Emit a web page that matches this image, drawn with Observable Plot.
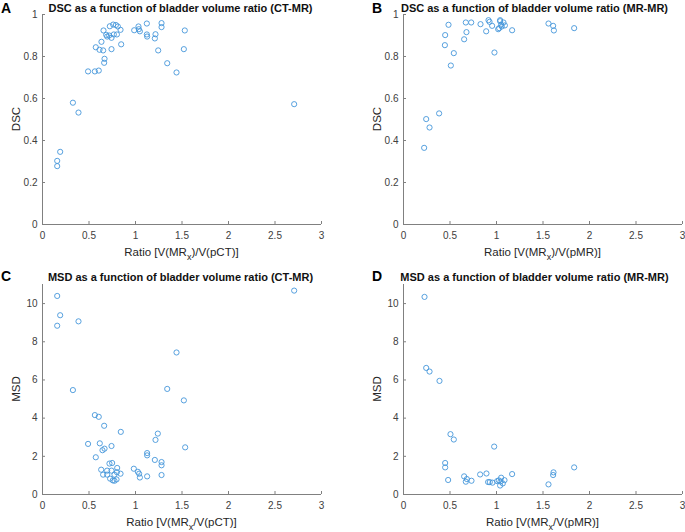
<!DOCTYPE html>
<html>
<head>
<meta charset="utf-8">
<script src="https://cdn.jsdelivr.net/npm/d3@7"></script>
<script src="https://cdn.jsdelivr.net/npm/@observablehq/plot@0.6"></script>
<style>
  html, body { margin: 0; padding: 0; background: #fff; }
  #wrap { position: relative; width: 685px; height: 532px; overflow: hidden; }
  #wrap > div { position: absolute; }
  svg { overflow: visible; }
</style>
</head>
<body>
<div id="wrap">
  <div id="pA" style="left:0px; top:0px;"></div>
  <div id="pB" style="left:361px; top:0px;"></div>
  <div id="pC" style="left:0px; top:270px;"></div>
  <div id="pD" style="left:361px; top:270px;"></div>
</div>
<script>
// ---------- data ----------
const panelLetters = ["A", "B", "C", "D"];
const panelTitles = [
  "DSC as a function of bladder volume ratio (CT-MR)",
  "DSC as a function of bladder volume ratio (MR-MR)",
  "MSD as a function of bladder volume ratio (CT-MR)",
  "MSD as a function of bladder volume ratio (MR-MR)"
];
const yLabels = ["DSC", "DSC", "MSD", "MSD"];
// x labels: [before subscript, subscript, after subscript]
const xLabels = [
  ["Ratio [V(MR", "x", ")/V(pCT)]"],
  ["Ratio [V(MR", "x", ")/V(pMR)]"],
  ["Ratio [V(MR", "x", "/V(pCT)]"],
  ["Ratio [V(MR", "x", "/V(pMR)]"]
];
const xTicks = [0, 0.5, 1, 1.5, 2, 2.5, 3];
const dscTicks = [0, 0.2, 0.4, 0.6, 0.8, 1];
const msdTicks = [0, 2, 4, 6, 8, 10];

// A: DSC, CT-MR
const dscCtRatio = [0.158, 0.158, 0.19, 0.327, 0.387, 0.49, 0.563, 0.605, 0.573, 0.613, 0.652, 0.634, 0.656,
  0.667, 0.663, 0.685, 0.695, 0.724, 0.717, 0.742, 0.742, 0.76, 0.789, 0.767, 0.8, 0.81, 0.839, 0.846,
  0.986, 1.032, 1.036, 1.047, 1.122, 1.122, 1.125, 1.215, 1.208, 1.244, 1.28, 1.28, 1.341, 1.441,
  1.52, 1.53, 2.706];
const dscCtValue = [0.278, 0.303, 0.346, 0.58, 0.533, 0.729, 0.729, 0.733, 0.844, 0.832, 0.829, 0.87, 0.924,
  0.789, 0.77, 0.903, 0.895, 0.944, 0.9, 0.889, 0.835, 0.952, 0.95, 0.905, 0.905, 0.943, 0.927, 0.858,
  0.925, 0.943, 0.93, 0.92, 0.957, 0.905, 0.895, 0.906, 0.886, 0.829, 0.959, 0.94, 0.768, 0.724,
  0.835, 0.924, 0.573];

// B: DSC, MR-MR
const dscMrRatio = [0.222, 0.244, 0.28, 0.383, 0.484, 0.448, 0.445, 0.509, 0.541, 0.652, 0.677, 0.67, 0.728,
  0.828, 0.889, 0.914, 0.925, 0.953, 0.978, 1.018, 1.029, 1.039, 1.039, 1.05, 1.075, 1.09, 1.057,
  1.168, 1.559, 1.609, 1.617, 1.835];
const dscMrValue = [0.365, 0.502, 0.462, 0.529, 0.951, 0.902, 0.854, 0.757, 0.816, 0.882, 0.916, 0.962, 0.962,
  0.954, 0.92, 0.973, 0.965, 0.946, 0.819, 0.93, 0.935, 0.973, 0.968, 0.951, 0.962, 0.948, 0.943,
  0.925, 0.957, 0.946, 0.924, 0.935];

// C: MSD, CT-MR
const msdCtRatio = [0.158, 0.19, 0.158, 0.387, 0.327, 1.441, 1.341, 1.52, 2.706, 0.563, 0.605, 0.663, 0.842,
  1.24, 1.215, 0.49, 0.616, 0.742, 0.667, 0.645, 1.534, 1.125, 1.125, 0.573, 1.208, 1.28, 1.28,
  0.72, 0.749, 0.803, 0.631, 0.695, 0.742, 0.982, 1.025, 1.039, 1.047, 1.125, 1.28, 0.652, 0.695,
  0.839, 0.774, 0.727, 0.756, 0.774, 0.796, 0.8];
const msdCtValue = [10.4, 9.39, 8.84, 9.07, 5.47, 7.44, 5.53, 4.93, 10.68, 4.16, 4.07, 3.6, 3.28,
  3.19, 2.86, 2.65, 2.68, 2.54, 2.4, 2.32, 2.47, 2.17, 2.05, 1.95, 1.81, 1.7, 1.53,
  1.62, 1.65, 1.39, 1.3, 1.25, 1.25, 1.35, 1.19, 1.09, 0.89, 0.95, 1.02, 1.04, 1.04,
  1.09, 1.04, 0.83, 0.74, 0.72, 0.79, 1.17];

// D: MSD, MR-MR
const msdMrRatio = [0.226, 0.244, 0.28, 0.387, 0.505, 0.541, 0.975, 0.448, 0.448, 1.835, 0.48, 0.652, 0.681,
  0.67, 0.731, 0.824, 0.892, 0.91, 0.928, 0.957, 1.007, 1.025, 1.043, 1.05, 1.039, 1.068, 1.086,
  1.168, 1.559, 1.613, 1.609];
const msdMrValue = [10.35, 6.63, 6.44, 5.95, 3.16, 2.88, 2.51, 1.65, 1.42, 1.42, 0.76, 0.95, 0.81,
  0.67, 0.72, 1.05, 1.1, 0.65, 0.65, 0.62, 0.7, 0.74, 0.68, 0.88, 0.47, 0.58, 0.75,
  1.07, 0.53, 1.16, 1.02];

// ---------- drawing ----------
const FONT = "'Liberation Sans', Arial, Helvetica, sans-serif";
const AXIS = "#808080";
const TEXT = "#404040";
const DOT = "#4596da";

function zip(xs, ys) { return xs.map((x, i) => ({x, y: ys[i]})); }

const panels = [
  {id: "pA", data: zip(dscCtRatio, dscCtValue), yTicks: dscTicks, yDomain: [0, 1], top: 0},
  {id: "pB", data: zip(dscMrRatio, dscMrValue), yTicks: dscTicks, yDomain: [0, 1], top: 0},
  {id: "pC", data: zip(msdCtRatio, msdCtValue), yTicks: msdTicks, yDomain: [0, 11], top: 1},
  {id: "pD", data: zip(msdMrRatio, msdMrValue), yTicks: msdTicks, yDomain: [0, 11], top: 1}
];

panels.forEach((p, i) => {
  const right = i % 2 === 1;
  const width = right ? 324 : 342;
  const marginRight = width - 42 - 279;
  const height = p.top ? 262 : 266;
  const marginBottom = height - 224;
  const svg = Plot.plot({
    width, height,
    marginLeft: 42, marginRight, marginTop: 14, marginBottom,
    style: {fontFamily: FONT, fontSize: "10px", color: TEXT, background: "transparent", overflow: "visible"},
    x: {domain: [0, 3]},
    y: {domain: p.yDomain},
    marks: [
      Plot.ruleX([0], {stroke: AXIS, strokeWidth: 1}),
      Plot.ruleY([0], {stroke: AXIS, strokeWidth: 1}),
      Plot.axisX(xTicks, {tickSize: -3, tickPadding: 10, stroke: AXIS, fill: TEXT, label: null, tickFormat: d => String(d)}),
      Plot.axisY(p.yTicks, {tickSize: -3, tickPadding: 8, stroke: AXIS, fill: TEXT, label: null, tickFormat: d => String(d)}),
      Plot.dot(p.data, {x: "x", y: "y", r: 2.6, stroke: DOT, strokeWidth: 0.9, fill: "none"})
    ]
  });
  const s = d3.select(svg);
  const cx = 42 + 279 / 2;
  // panel letter
  s.append("text")
    .attr("x", right ? 11 : 1).attr("y", p.top ? 10.5 : 12.5)
    .attr("text-anchor", "start")
    .attr("font-family", FONT).attr("font-size", 14).attr("font-weight", "bold").attr("fill", "#000")
    .text(panelLetters[i]);
  // title
  s.append("text")
    .attr("x", right ? cx - 8 : cx - 1).attr("y", p.top ? 10.5 : 11.5)
    .attr("text-anchor", "middle")
    .attr("font-family", FONT).attr("font-size", 11).attr("font-weight", "bold").attr("fill", "#111")
    .text(panelTitles[i]);
  // y label
  s.append("text")
    .attr("transform", `translate(${20},${14 + 105}) rotate(-90)`)
    .attr("text-anchor", "middle")
    .attr("font-family", FONT).attr("font-size", 11.5).attr("fill", "#262626")
    .text(yLabels[i]);
  // x label with subscript
  const xl = s.append("text")
    .attr("x", cx).attr("y", 255.5)
    .attr("text-anchor", "middle")
    .attr("font-family", FONT).attr("font-size", 11.5).attr("fill", "#262626");
  xl.append("tspan").text(xLabels[i][0]);
  xl.append("tspan").attr("dy", 4).attr("font-size", 9).text(xLabels[i][1]);
  xl.append("tspan").attr("dy", -4).text(xLabels[i][2]);
  document.getElementById(p.id).appendChild(svg);
});
</script>
</body>
</html>
